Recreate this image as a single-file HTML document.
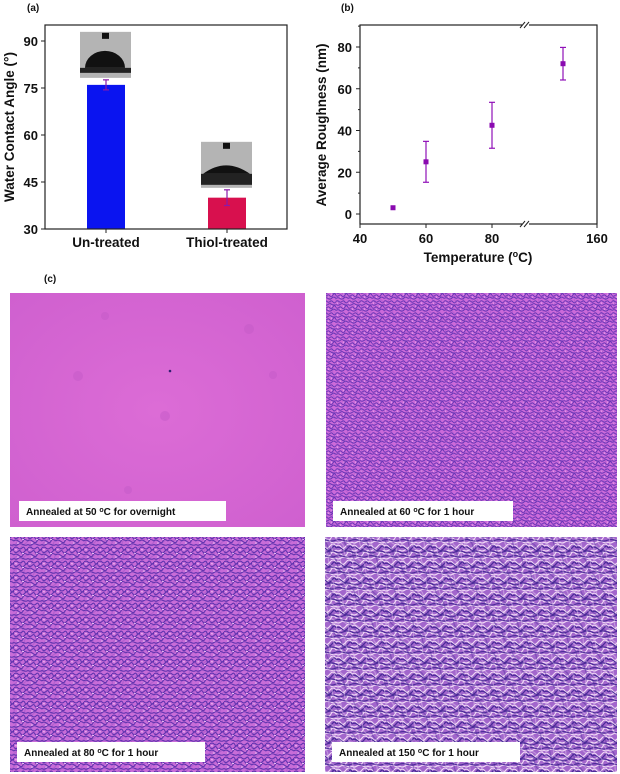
<!DOCTYPE html>
<html><head><meta charset="utf-8"><style>
html,body{margin:0;padding:0;background:#fff;}
svg{display:block;font-family:"Liberation Sans",Arial,sans-serif;}
.t{font-weight:bold;fill:#111;}
</style></head><body>
<svg id="fig" width="620" height="774" viewBox="0 0 620 774">
<defs>
<pattern id="pf" width="12" height="12" patternUnits="userSpaceOnUse">
<rect width="12" height="12" fill="#cc6ada"/>
<path d="M0 1.5 Q1.5 0 3 1.5 T6 1.5 T9 2 T12 1.5 M0 4.5 Q2 6 4 4.5 T7 4 T10 5 T12 4.5 M0 7.5 Q1.5 9 3 7.5 T6 8 T9 7 T12 7.5 M0 10.5 Q2 9 4 10.5 T8 10 T12 10.5" stroke="#6434b4" stroke-width="0.9" fill="none"/>
<path d="M1 3 L2 3.2 M7 6 L8 6.3 M4 9 L5 9.2" stroke="#f2c4f6" stroke-width="0.8" fill="none"/>
</pattern>
<pattern id="pf2" width="14" height="14" patternUnits="userSpaceOnUse" patternTransform="rotate(70)">
<path d="M0 3 Q3 1 6 3 T14 3 M0 10 Q4 12 7 10 T14 10" stroke="#6434b4" stroke-width="0.9" fill="none"/>
</pattern>
<pattern id="pm" width="14" height="14" patternUnits="userSpaceOnUse">
<rect width="14" height="14" fill="#c86cd8"/>
<path d="M0 2 Q2 0 4 2 T8 2 T11 3 T14 2 M0 5.5 Q2 7.5 4 5.5 T7 6 T11 5 T14 5.5 M0 9 Q2 7 5 9.5 T9 9 T14 9 M0 12.5 Q2 14 4 12.5 T9 12.5 T14 12.5" stroke="#5e32ae" stroke-width="1.1" fill="none"/>
<path d="M1 3.7 L3 3.9 M8 7.3 L10 7.5 M3 11 L5 11.2" stroke="#f2c4f6" stroke-width="0.9" fill="none"/>
</pattern>
<pattern id="pm2" width="16" height="16" patternUnits="userSpaceOnUse" patternTransform="rotate(-55)">
<path d="M0 4 Q4 2 8 4 T16 4 M0 12 Q4 14 8 12 T16 12" stroke="#5e32ae" stroke-width="1" fill="none"/>
</pattern>
<pattern id="pc" width="16" height="16" patternUnits="userSpaceOnUse">
<rect width="16" height="16" fill="#a266cc"/>
<path d="M0 2 Q3 0 5 3 T10 2 T16 2 M0 6 Q2 8 5 6 T10 7 T16 6 M0 10 Q3 8 6 11 T11 10 T16 10 M0 14 Q2 16 5 14 T11 14 T16 14" stroke="#f0d8f6" stroke-width="1.1" fill="none"/>
<path d="M0 4 Q3 2 6 5 T12 4 T16 4 M0 8 Q3 10 7 8 T16 8 M0 12 Q4 11 8 12.5 T16 12" stroke="#4a2a98" stroke-width="1.2" fill="none"/>
</pattern>
<pattern id="pc2" width="18" height="18" patternUnits="userSpaceOnUse" patternTransform="rotate(60)">
<path d="M0 4 Q4 1 9 4 T18 4 M0 13 Q4 16 9 13 T18 13" stroke="#f0d8f6" stroke-width="1.1" fill="none"/>
<path d="M0 8 Q4 6 9 8 T18 8" stroke="#4a2a98" stroke-width="1.2" fill="none"/>
</pattern>
<radialGradient id="bg1" cx="50%" cy="50%" r="70%">
<stop offset="0" stop-color="#dc6cd6"/><stop offset="1" stop-color="#cf60cf"/>
</radialGradient>
</defs>

<g id="panelA">
<text class="t" x="27" y="11" font-size="10">(a)</text>
<g id="aMarks"></g>
<rect x="45" y="25" width="242" height="204" fill="none" stroke="#222" stroke-width="1.2"/>
<g id="aAxis"></g>
<text class="t" font-size="13.5" transform="translate(14,127) rotate(-90)" text-anchor="middle">Water Contact Angle (°)</text>
</g>

<g id="panelB">
<text class="t" x="341" y="11" font-size="10">(b)</text>
<rect x="360" y="25" width="237" height="199" fill="none" stroke="#222" stroke-width="1.2"/>
<g id="bAxis"></g>
<g id="bMarks"></g>
<text class="t" font-size="13.5" transform="translate(326,125) rotate(-90)" text-anchor="middle">Average Roughness (nm)</text>
<text class="t" font-size="13.5" x="478" y="262" text-anchor="middle">Temperature (<tspan font-size="9" dy="-5">o</tspan><tspan dy="5">C)</tspan></text>
</g>

<g>
<text class="t" x="44" y="282" font-size="10">(c)</text>
<g>
<rect x="10" y="293" width="295" height="234" fill="url(#bg1)"/>
<circle cx="105" cy="316" r="4" fill="#c45ac8" opacity="0.5"/><circle cx="78" cy="376" r="5" fill="#c45ac8" opacity="0.5"/><circle cx="165" cy="416" r="5" fill="#c45ac8" opacity="0.5"/><circle cx="249" cy="329" r="5" fill="#c45ac8" opacity="0.5"/><circle cx="273" cy="375" r="4" fill="#c45ac8" opacity="0.5"/><circle cx="128" cy="490" r="4" fill="#c45ac8" opacity="0.5"/>
<circle cx="170" cy="371" r="1.3" fill="#302070"/>
<rect x="19" y="501" width="207" height="20" fill="#fff"/>
<text class="t" x="26" y="515" font-size="10">Annealed at 50 <tspan font-size="7" dy="-3">o</tspan><tspan dy="3">C for overnight</tspan></text>
</g>
<g>
<rect x="326" y="293" width="291" height="234" fill="url(#pf)"/>
<rect x="326" y="293" width="291" height="234" fill="url(#pf2)" opacity="0.25"/>
<rect x="333" y="501" width="180" height="20" fill="#fff"/>
<text class="t" x="340" y="515" font-size="10">Annealed at 60 <tspan font-size="7" dy="-3">o</tspan><tspan dy="3">C for 1 hour</tspan></text>
</g>
<g>
<rect x="10" y="537" width="295" height="235" fill="url(#pm)"/>
<rect x="10" y="537" width="295" height="235" fill="url(#pm2)" opacity="0.25"/>
<rect x="17" y="742" width="188" height="20" fill="#fff"/>
<text class="t" x="24" y="756" font-size="10">Annealed at 80 <tspan font-size="7" dy="-3">o</tspan><tspan dy="3">C for 1 hour</tspan></text>
</g>
<g>
<rect x="325" y="537" width="292" height="235" fill="url(#pc)"/>
<rect x="325" y="537" width="292" height="235" fill="url(#pc2)" opacity="0.45"/>
<rect x="332" y="742" width="188" height="20" fill="#fff"/>
<text class="t" x="339" y="756" font-size="10">Annealed at 150 <tspan font-size="7" dy="-3">o</tspan><tspan dy="3">C for 1 hour</tspan></text>
</g>
</g>
</svg>
<script>
const NS="http://www.w3.org/2000/svg";
// Panel a data
const aCategories=["Un-treated","Thiol-treated"];
const aValues=[76,40];
const aErrors=[1.6,2.5];
const aColors=["#0a14f0","#d8104e"];
const aTicks=[30,45,60,75,90];
// Panel b data
const bTemps=[50,60,80,150];
const bValues=[3,25,42.5,72];
const bErrors=[0,9.8,11,7.8];
const bYTicks=[0,20,40,60,80];
const bXTicks=[40,60,80,160];

function mk(tag,attrs,parent){const e=document.createElementNS(NS,tag);for(const k in attrs)e.setAttribute(k,attrs[k]);parent.appendChild(e);return e;}
const ay=v=>229-(v-30)*(188/60);
const ax=i=>106+i*121;
const aM=document.getElementById('aMarks'),aA=document.getElementById('aAxis');
aValues.forEach((v,i)=>{
  const r=mk('rect',{x:ax(i)-19,y:ay(v),width:38,height:229-ay(v),fill:aColors[i]},aM);
  
  
  const g=mk('g',{stroke:'#8a1aa8','stroke-width':1.2},aM);
  
  
  mk('line',{x1:ax(i),x2:ax(i),y1:ay(v+aErrors[i]),y2:ay(v-aErrors[i])},g);
  mk('line',{x1:ax(i)-3,x2:ax(i)+3,y1:ay(v+aErrors[i]),y2:ay(v+aErrors[i])},g);
  mk('line',{x1:ax(i)-3,x2:ax(i)+3,y1:ay(v-aErrors[i]),y2:ay(v-aErrors[i])},g);
  const top=ay(v+aErrors[i])-48, ix=ax(i)-26;
  const ins=mk('g',{},aM);
  
  
  mk('rect',{x:ix,y:top,width:51,height:46,fill:'#b4b4b4'},ins);
  mk('rect',{x:ix+22,y:top+1,width:7,height:6,fill:'#111'},ins);
  if(i==0){mk('path',{d:`M${ix+5} ${top+36} A20 17 0 0 1 ${ix+45} ${top+36} Z`,fill:'#111'},ins);mk('rect',{x:ix,y:top+36,width:51,height:5,fill:'#222'},ins);}
  else{mk('path',{d:`M${ix+2} ${top+32} Q${ix+25} ${top+15} ${ix+49} ${top+32} Z`,fill:'#111'},ins);mk('rect',{x:ix,y:top+32,width:51,height:11,fill:'#222'},ins);}
  const t=mk('text',{x:ax(i),y:247,'font-size':13.5,'text-anchor':'middle',class:'t'},aA);t.textContent=aCategories[i];
  
  
  mk('line',{x1:ax(i),x2:ax(i),y1:229,y2:233,stroke:'#222'},aA);
});
aTicks.forEach(v=>{
  mk('line',{x1:45,x2:41,y1:ay(v),y2:ay(v),stroke:'#222'},aA);
  const t=mk('text',{x:38,y:ay(v)+5,'font-size':13,'text-anchor':'end',class:'t'},aA);t.textContent=v;
  
  
});
const bx=v=>v<=90?360+(v-40)*3.3:529+(v-140)*3.4;
const by=v=>214-v*(167/80);
const bM=document.getElementById('bMarks'),bA=document.getElementById('bAxis');
bYTicks.forEach(v=>{
  mk('line',{x1:360,x2:356,y1:by(v),y2:by(v),stroke:'#222'},bA);
  mk('line',{x1:360,x2:358,y1:by(v+10),y2:by(v+10),stroke:'#222'},bA);
  const t=mk('text',{x:352,y:by(v)+5,'font-size':13,'text-anchor':'end',class:'t'},bA);t.textContent=v;
  
  
});
bXTicks.forEach(v=>{
  mk('line',{x1:bx(v),x2:bx(v),y1:224,y2:228,stroke:'#222'},bA);
  const t=mk('text',{x:bx(v),y:243,'font-size':13,'text-anchor':'middle',class:'t'},bA);t.textContent=v;
  
  
});
[25,224].forEach(y=>{
  mk('rect',{x:522,y:y-3,width:7,height:6,fill:'#fff'},bA);
  mk('line',{x1:520,x2:525,y1:y+3,y2:y-3,stroke:'#222'},bA);
  mk('line',{x1:524,x2:529,y1:y+3,y2:y-3,stroke:'#222'},bA);
});
bTemps.forEach((tv,i)=>{
  const x=bx(tv),y=by(bValues[i]),e=bErrors[i];
  const g=mk('g',{stroke:'#9010b8','stroke-width':1.2},bM);
  
  
  if(e>0){
    mk('line',{x1:x,x2:x,y1:by(bValues[i]+e),y2:by(bValues[i]-e)},g);
    mk('line',{x1:x-3,x2:x+3,y1:by(bValues[i]+e),y2:by(bValues[i]+e)},g);
    mk('line',{x1:x-3,x2:x+3,y1:by(bValues[i]-e),y2:by(bValues[i]-e)},g);
  }
  mk('rect',{x:x-2.5,y:y-2.5,width:5,height:5,fill:'#8a0ab0',stroke:'none'},g);
});
</script>
</body></html>
